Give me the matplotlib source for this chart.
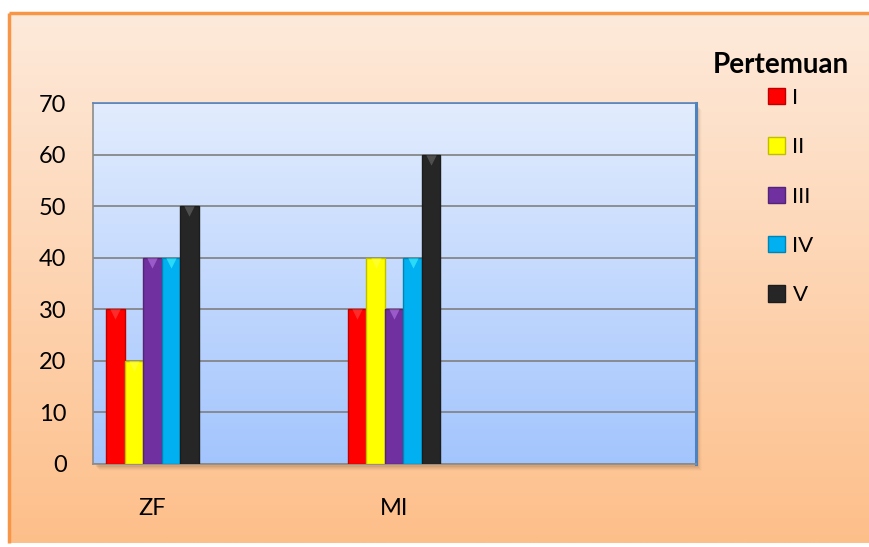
import numpy as np
import matplotlib
matplotlib.use("Agg")
import matplotlib.pyplot as plt
from matplotlib.patches import Rectangle
from matplotlib.colors import LinearSegmentedColormap, to_rgb

# data
categories = ["ZF", "MI"]
sessions = ["I", "II", "III", "IV", "V"]
values = {
    "I":   [30, 30],
    "II":  [20, 40],
    "III": [40, 30],
    "IV":  [40, 40],
    "V":   [50, 60],
}
colors = ["#FF0000", "#FFFF00", "#7030A0", "#00B0F0", "#262626"]
yticks = [0, 10, 20, 30, 40, 50, 60, 70]
legend_title = "Pertemuan"

plt.rcParams["font.family"] = ["Lato", "DejaVu Sans"]

W, H = 869, 547
fig = plt.figure(figsize=(W / 100, H / 100), dpi=100)
fig.patch.set_facecolor("white")

# peach gradient background with orange frame
bg = fig.add_axes([0, 0, 1, 1], zorder=-10)
bg.set_xlim(0, W)
bg.set_ylim(H, 0)
bg.axis("off")
top_c = np.array(to_rgb("#FDEADB"))
bot_c = np.array(to_rgb("#FEBF8A"))
t = np.linspace(0, 1, 256)[:, None]
grad = (top_c * (1 - t) + bot_c * t)[:, None, :]
grad = np.repeat(grad, 2, axis=1)
bg.imshow(grad, extent=[9, W, 543, 13], aspect="auto", zorder=0)
bg.plot([8.5, W], [13, 13], color="#F79646", lw=2.5, zorder=2, solid_capstyle="butt")
bg.plot([8.5, 8.5], [13, 543], color="#F79646", lw=2.5, zorder=2, solid_capstyle="butt")
# soft shadow of the plot area
for i, a in enumerate([0.10, 0.08, 0.06, 0.04, 0.02]):
    bg.add_patch(Rectangle((96 + i, 106 + i), 602, 361, color="#6B4A2A", alpha=a, lw=0, zorder=1))

# plot area
ax = fig.add_axes([93 / W, 1 - 464 / H, 603 / W, 361 / H])
ax.set_facecolor("none")
pa_top = to_rgb("#E2ECFD")
pa_bot = to_rgb("#A3C5FE")
ax.imshow(
    LinearSegmentedColormap.from_list("pa", [pa_bot, pa_top])(np.linspace(0, 1, 256))[:, None, :3],
    extent=[-0.246, 2.25, 0, 70], aspect="auto", origin="lower", zorder=0,
)

x = np.arange(len(categories))
bw = 0.0766
handles = []
for i, (s, c) in enumerate(zip(sessions, colors)):
    xs = x + (i - 2) * bw
    v = values[s]
    base = np.array(to_rgb(c))
    b = ax.bar(xs, v, width=bw, color=c, edgecolor=tuple(base * 0.75), linewidth=1.0,
               zorder=3, label=s)
    handles.append(b)
    hi = tuple(np.clip(base + 0.3, 0, 1))
    ax.scatter(xs, np.array(v) - 1.0, marker="v", s=55, color=hi, alpha=0.55,
               linewidths=0, zorder=4)

ax.set_xlim(-0.246, 2.25)
ax.set_ylim(0, 70)
ax.set_yticks(yticks)
ax.set_yticklabels([str(v) for v in yticks], fontsize=17)
ax.tick_params(axis="y", length=0, pad=19)
ax.set_xticks([])
for k, cat in enumerate(categories):
    ax.text(x[k], -0.122, cat, transform=ax.get_xaxis_transform(),
            ha="center", va="center", fontsize=17)
ax.grid(axis="y", color="#808080", lw=1.2, zorder=1)
ax.set_axisbelow(True)
for side in ["left", "bottom"]:
    ax.spines[side].set_color("#8C8C8C")
    ax.spines[side].set_linewidth(1.2)
ax.spines["top"].set_color("#5A84C0")
ax.spines["top"].set_linewidth(1.2)
ax.spines["right"].set_color("#4F81BD")
ax.spines["right"].set_linewidth(2.2)

fig.text(781 / W, 1 - 65 / H, legend_title, ha="center", va="center",
         fontsize=20, fontweight="bold")
fig.legend(
    handles=handles, labels=sessions,
    loc="upper left", bbox_to_anchor=(768 / W, 1 - 88 / H),
    borderaxespad=0, borderpad=0,
    frameon=False, fontsize=16,
    handlelength=0.75, handleheight=0.75, handletextpad=0.35,
    labelspacing=1.32,
)

fig.savefig("out.png", dpi=100)
